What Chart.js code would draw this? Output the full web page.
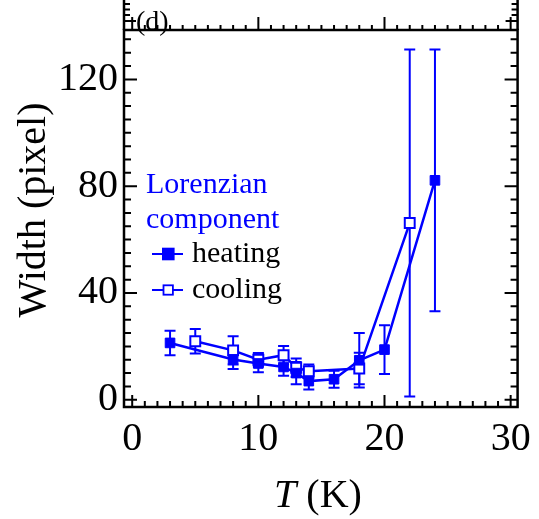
<!DOCTYPE html>
<html>
<head>
<meta charset="utf-8">
<script src="https://cdn.jsdelivr.net/npm/chart.js@4/dist/chart.umd.min.js"></script>
<style>
  body { margin: 0; background: #fff; }
  canvas { display: block; }
</style>
</head>
<body>
<canvas id="widthChart" width="539" height="519"></canvas>
<script>
// heating run: temperature (K), Lorentzian width (pixel), error
const heatT = [3, 8, 10, 12, 13, 14, 16, 18, 20, 24]
const heatW = [21.3, 15.1, 13.6, 12.3, 10.0, 7.0, 7.7, 14.8, 18.8, 82.2]
const heatErr = [4.6, 3.6, 3.3, 3.3, 4.2, 3.1, 3.2, 10.2, 9.1, 49]

// cooling run
const coolT = [5, 8, 10, 12, 13, 14, 18, 22]
const coolW = [21.9, 18.5, 15.0, 16.7, 12.0, 10.7, 11.7, 66.2]
const coolErr = [4.6, 5.3, 2.5, 3.4, 3.5, 2.5, 5.9, 65]

const xTicks = [0, 10, 20, 30]
const yTicks = [0, 40, 80, 120]
const xMinorStep = 1
const yMinorStep = 5

const BLUE = 'rgb(0, 0, 255)'
const SERIF = "'Liberation Serif', 'Times New Roman', serif"

function points(xs, ys) {
    return xs.map((x, i) => ({x: x, y: ys[i]}))
}

// vertical error bars with caps, drawn under the markers
const errorBars = {
    id: 'errorBars',
    beforeDatasetsDraw(chart) {
        const ctx = chart.ctx
        const xs = chart.scales.x, ys = chart.scales.y
        ctx.save()
        ctx.strokeStyle = BLUE
        ctx.lineWidth = 2
        chart.data.datasets.forEach(ds => {
            ds.data.forEach((p, i) => {
                const px = xs.getPixelForValue(p.x)
                const top = ys.getPixelForValue(p.y + ds.errors[i])
                const bot = ys.getPixelForValue(p.y - ds.errors[i])
                ctx.beginPath()
                ctx.moveTo(px, top); ctx.lineTo(px, bot)
                ctx.moveTo(px - 5.5, top); ctx.lineTo(px + 5.5, top)
                ctx.moveTo(px - 5.5, bot); ctx.lineTo(px + 5.5, bot)
                ctx.stroke()
            })
        })
        ctx.restore()
    }
}

// box frame, inward ticks, axis titles, legend block and panel tag
const frame = {
    id: 'frame',
    afterDraw(chart) {
        const ctx = chart.ctx
        const a = chart.chartArea
        const xs = chart.scales.x, ys = chart.scales.y
        ctx.save()
        ctx.strokeStyle = '#000'
        ctx.lineWidth = 2.5
        ctx.strokeRect(a.left, a.top, a.right - a.left, a.bottom - a.top)
        // bottom edge of the panel above
        ctx.beginPath()
        ctx.moveTo(a.left, 0); ctx.lineTo(a.left, a.top)
        ctx.moveTo(a.right, 0); ctx.lineTo(a.right, a.top)
        ctx.stroke()

        ctx.lineWidth = 2
        ctx.beginPath()
        for (let v = Math.ceil(xs.min); v <= xs.max; v += xMinorStep) {
            const px = xs.getPixelForValue(v)
            const len = xTicks.includes(v) ? 12 : 6
            ctx.moveTo(px, a.bottom); ctx.lineTo(px, a.bottom - len)
            const up = xTicks.includes(v) ? 13 : 5
            ctx.moveTo(px, a.top); ctx.lineTo(px, a.top - up)
        }
        for (let v = 0; v <= ys.max; v += yMinorStep) {
            const py = ys.getPixelForValue(v)
            const len = yTicks.includes(v) ? 13 : 7
            ctx.moveTo(a.left, py); ctx.lineTo(a.left + len, py)
            ctx.moveTo(a.right, py); ctx.lineTo(a.right - len, py)
        }
        for (const py of [4, 9.5, 15, 21]) {
            const len = py === 21 ? 12 : 6
            ctx.moveTo(a.left, py); ctx.lineTo(a.left + len, py)
            ctx.moveTo(a.right, py); ctx.lineTo(a.right - len, py)
        }
        ctx.stroke()

        ctx.fillStyle = '#000'
        ctx.textBaseline = 'alphabetic'

        // y title
        ctx.save()
        ctx.translate(45, 210)
        ctx.rotate(-Math.PI / 2)
        ctx.font = '40px ' + SERIF
        ctx.textAlign = 'center'
        ctx.fillText('Width (pixel)', 0, 0)
        ctx.restore()

        // x title: italic T, upright unit
        ctx.textAlign = 'left'
        ctx.font = 'italic 40px ' + SERIF
        const wT = ctx.measureText('T').width
        ctx.font = '40px ' + SERIF
        const wK = ctx.measureText(' (K)').width
        const x0 = 318 - (wT + wK) / 2
        ctx.font = 'italic 40px ' + SERIF
        ctx.fillText('T', x0, 507)
        ctx.font = '40px ' + SERIF
        ctx.fillText(' (K)', x0 + wT, 507)

        // panel tag
        ctx.font = '28px ' + SERIF
        ctx.fillText('(d)', 136, 30)

        // legend
        ctx.font = '30px ' + SERIF
        ctx.fillStyle = BLUE
        ctx.fillText('Lorenzian', 146, 193)
        ctx.fillText('component', 146, 228)
        const rows = [254, 290]
        chart.data.datasets.forEach((ds, i) => {
            const y = rows[i]
            ctx.strokeStyle = BLUE
            ctx.lineWidth = 2
            ctx.beginPath()
            ctx.moveTo(152, y); ctx.lineTo(183, y)
            ctx.stroke()
            if (ds.pointBackgroundColor === BLUE) {
                ctx.fillStyle = BLUE
                ctx.fillRect(162, y - 6.3, 12.6, 12.6)
            } else {
                ctx.fillStyle = '#fff'
                ctx.fillRect(163.5, y - 4.7, 9.4, 9.4)
                ctx.lineWidth = 1.8
                ctx.strokeRect(163.5, y - 4.7, 9.4, 9.4)
            }
            ctx.fillStyle = '#000'
            ctx.fillText(ds.label, 192, y + 7.5)
        })
        ctx.restore()
    }
}

const tickFont = {family: SERIF, size: 40, lineHeight: 1.2}

new Chart('widthChart', {
    type: 'line',
    data: {
        datasets: [
            {
                label: 'heating',
                data: points(heatT, heatW),
                errors: heatErr,
                borderColor: BLUE,
                borderWidth: 2.5,
                pointStyle: 'rect',
                pointRadius: 6.8,
                pointBackgroundColor: BLUE,
                pointBorderColor: BLUE,
                pointBorderWidth: 1,
                tension: 0
            },
            {
                label: 'cooling',
                data: points(coolT, coolW),
                errors: coolErr,
                borderColor: BLUE,
                borderWidth: 2.5,
                pointStyle: 'rect',
                pointRadius: 7,
                pointBackgroundColor: '#fff',
                pointBorderColor: BLUE,
                pointBorderWidth: 2,
                tension: 0
            }
        ]
    },
    options: {
        responsive: false,
        animation: false,
        layout: {padding: {top: 26, right: 20, left: 0, bottom: 0}},
        plugins: {legend: {display: false}, tooltip: {enabled: false}},
        scales: {
            x: {
                type: 'linear',
                min: -0.65,
                max: 30.55,
                grid: {display: false, drawTicks: false},
                border: {display: false},
                afterBuildTicks: s => { s.ticks = xTicks.map(v => ({value: v})) },
                afterFit: s => { s.height = 112 },
                ticks: {font: tickFont, color: '#000', padding: 8, maxRotation: 0, autoSkip: false}
            },
            y: {
                type: 'linear',
                min: -2.7,
                max: 138.5,
                grid: {display: false, drawTicks: false},
                border: {display: false},
                afterBuildTicks: s => { s.ticks = yTicks.map(v => ({value: v})) },
                afterFit: s => { s.width = 124 },
                ticks: {font: tickFont, color: '#000', padding: 6, autoSkip: false}
            }
        }
    },
    plugins: [errorBars, frame]
})
</script>
</body>
</html>
